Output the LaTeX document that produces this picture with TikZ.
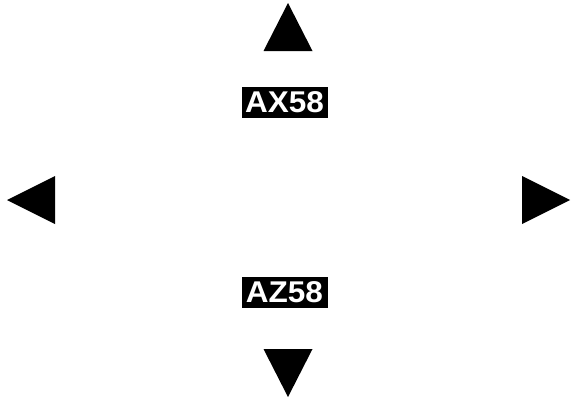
\documentclass[tikz,border=0pt]{standalone}
\usepackage{fontspec}
\setmainfont{Liberation Sans}
\tikzset{tag/.style={fill=black, text=white, inner sep=0pt, minimum width=86pt, minimum height=31pt, font=\bfseries\fontsize{30}{30}\selectfont}}
\begin{document}
\begin{tikzpicture}[x=1pt,y=-1pt]
	\useasboundingbox (0,0) rectangle (572,399);
	%% arrows
	\fill (288,3) -- (312.5,51) -- (263.5,51) -- cycle;
	\fill (288,397) -- (312.5,349) -- (263.5,349) -- cycle;
	\fill (7,200) -- (55,176) -- (55,224) -- cycle;
	\fill (570,200) -- (522,176) -- (522,224) -- cycle;
	%% labels
	\node[tag] (ax) at (284.5,102) {\scalebox{1.05}[1]{AX58}};
	\node[tag] (az) at (284.5,292) {\scalebox{1.05}[1]{AZ58}};
\end{tikzpicture}
\end{document}
